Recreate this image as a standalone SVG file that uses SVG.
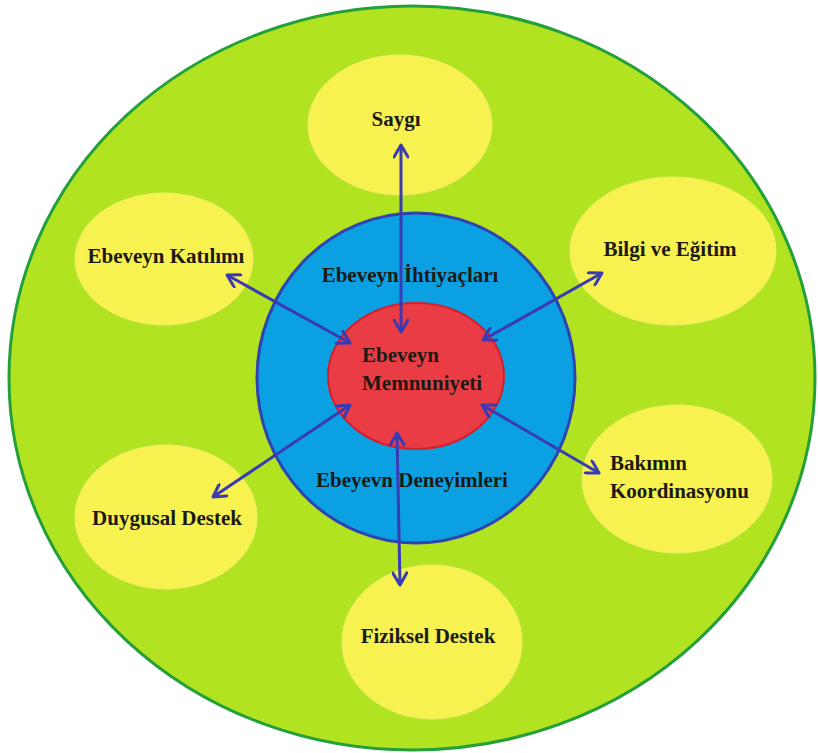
<svg xmlns="http://www.w3.org/2000/svg" width="818" height="753" viewBox="0 0 818 753">
<style>
.lbl{font-family:"Liberation Serif","DejaVu Serif","Times New Roman",serif;font-weight:bold;font-size:21px;fill:#1c1a14}
.yel{fill:#f7f24f;stroke:#f2ee6a;stroke-width:1}
.arr{stroke:#3a3ab4;stroke-width:3;fill:none;marker-start:url(#ah);marker-end:url(#ah)}
</style>
<defs>
<marker id="ah" viewBox="0 0 16 16" refX="14" refY="8" markerWidth="16" markerHeight="16" markerUnits="userSpaceOnUse" orient="auto-start-reverse">
<path d="M2,1 L14,8 L2,15" fill="none" stroke="#3a3ab4" stroke-width="3" stroke-linecap="round" stroke-linejoin="round"/>
</marker>
</defs>
<rect width="818" height="753" fill="#ffffff"/>
<g id="outer">
<ellipse cx="412" cy="378" rx="403" ry="372" fill="#b2e320" stroke="#24a03a" stroke-width="3"/>
</g>
<g id="saygi">
<ellipse class="yel" cx="400" cy="125" rx="92" ry="70"/>
<text class="lbl" font-family="Liberation Serif, serif" x="396" y="126" text-anchor="middle">Saygı</text>
</g>
<g id="katilim">
<ellipse class="yel" cx="164" cy="259" rx="89" ry="66"/>
<text class="lbl" font-family="Liberation Serif, serif" x="166" y="263" text-anchor="middle">Ebeveyn Katılımı</text>
</g>
<g id="bilgi">
<ellipse class="yel" cx="673" cy="251" rx="103" ry="74"/>
<text class="lbl" font-family="Liberation Serif, serif" x="670" y="256" text-anchor="middle">Bilgi ve Eğitim</text>
</g>
<g id="bakim">
<ellipse class="yel" cx="677" cy="479" rx="95" ry="74"/>
<text class="lbl" font-family="Liberation Serif, serif" x="610" y="470">Bakımın</text>
<text class="lbl" font-family="Liberation Serif, serif" x="610" y="498">Koordinasyonu</text>
</g>
<g id="duygusal">
<ellipse class="yel" cx="166" cy="517" rx="91" ry="72"/>
<text class="lbl" font-family="Liberation Serif, serif" x="167" y="525" text-anchor="middle">Duygusal Destek</text>
</g>
<g id="fiziksel">
<ellipse class="yel" cx="432" cy="642" rx="90" ry="77"/>
<text class="lbl" font-family="Liberation Serif, serif" x="428" y="643" text-anchor="middle">Fiziksel Destek</text>
</g>
<g id="ihtiyac">
<ellipse cx="416" cy="378" rx="159" ry="165" fill="#0aa0e2" stroke="#2f44b0" stroke-width="3"/>
<text class="lbl" font-family="Liberation Serif, serif" x="410" y="282" text-anchor="middle">Ebeveyn İhtiyaçları</text>
<text class="lbl" font-family="Liberation Serif, serif" x="412" y="487" text-anchor="middle">Ebeyevn Deneyimleri</text>
</g>
<g id="memnuniyet">
<ellipse cx="416" cy="376" rx="88" ry="73" fill="#ea3c44" stroke="#d2202c" stroke-width="2"/>
<text class="lbl" font-family="Liberation Serif, serif" x="362" y="362">Ebeveyn</text>
<text class="lbl" font-family="Liberation Serif, serif" x="362" y="390">Memnuniyeti</text>
</g>
<g id="connectors">
<line class="arr" x1="401" y1="145" x2="401" y2="332"/>
<line class="arr" x1="397" y1="433" x2="400" y2="585"/>
<line class="arr" x1="227" y1="275" x2="350" y2="343"/>
<line class="arr" x1="602" y1="273" x2="483" y2="340"/>
<line class="arr" x1="599" y1="473" x2="482" y2="405"/>
<line class="arr" x1="213" y1="497" x2="350" y2="405"/>
</g>
</svg>
